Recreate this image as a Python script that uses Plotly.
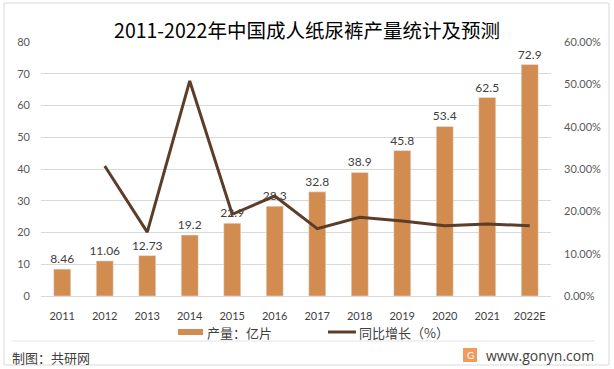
import plotly.graph_objects as go

years = ["2011", "2012", "2013", "2014", "2015", "2016", "2017", "2018", "2019", "2020", "2021", "2022E"]
output = [8.46, 11.06, 12.73, 19.2, 22.9, 28.3, 32.8, 38.9, 45.8, 53.4, 62.5, 72.9]
output_labels = ["8.46", "11.06", "12.73", "19.2", "22.9", "28.3", "32.8", "38.9", "45.8", "53.4", "62.5", "72.9"]
growth = [None, 30.7, 15.1, 50.8, 19.3, 23.6, 15.9, 18.6, 17.7, 16.6, 17.0, 16.6]
left_ticks = [0, 10, 20, 30, 40, 50, 60, 70, 80]
right_ticks = [0, 10, 20, 30, 40, 50, 60]
right_tick_text = ["0.00%", "10.00%", "20.00%", "30.00%", "40.00%", "50.00%", "60.00%"]
series_names = ["产量：亿片", "同比增长（%）"]

FONT = "Lato, 'Noto Sans CJK SC', sans-serif"
CJK = "'Noto Sans CJK SC', sans-serif"
BAR = "#D38C4F"
LINE = "#5C3D2A"

PL, PR, PT, PB = 41, 63, 42, 73
PW, PH = 614 - PL - PR, 369 - PT - PB


def px(x):
    return (x - PL) / PW


def py(y):
    return (369 - PB - y) / PH


fig = go.Figure()
fig.add_trace(go.Bar(
    x=years, y=output, name=series_names[0], marker_color=BAR, width=0.4,
    text=output_labels, textposition="outside", cliponaxis=False, constraintext="none",
    textfont=dict(size=12, color="#404040", family=FONT),
))
fig.add_trace(go.Scatter(
    x=years, y=growth, name=series_names[1], yaxis="y2", mode="lines",
    line=dict(color=LINE, width=3), connectgaps=False,
))

fig.update_layout(
    width=614, height=369,
    margin=dict(l=PL, r=PR, t=PT, b=PB),
    paper_bgcolor="white", plot_bgcolor="white",
    font=dict(family=FONT, size=11, color="#595959"),
    title=dict(text="2011-2022年中国成人纸尿裤产量统计及预测", x=0.5, xanchor="center",
               y=1 - 31 / 369, yanchor="middle", font=dict(family=CJK, size=19.5, color="#000000")),
    showlegend=False,
    xaxis=dict(type="category", showgrid=False, showline=True, linecolor="#D9D9D9",
               ticks="", tickfont=dict(size=11, color="#404040"), ticklabelstandoff=10),
    yaxis=dict(range=[0, 80], tickvals=left_ticks, showgrid=True, gridcolor="#D9D9D9",
               zeroline=False, showline=False, tickfont=dict(size=11, color="#595959"),
               ticklabelstandoff=10),
    yaxis2=dict(range=[0, 60], tickvals=right_ticks, ticktext=right_tick_text, overlaying="y",
                side="right", showgrid=False, zeroline=False, showline=False,
                tickfont=dict(size=11, color="#595959"), ticklabelstandoff=12),
)

# legend (drawn manually to match swatch shapes)
fig.add_shape(type="rect", xref="paper", yref="paper", x0=px(178), x1=px(203),
              y0=py(335), y1=py(329), fillcolor=BAR, line=dict(width=0))
fig.add_annotation(text=series_names[0], xref="paper", yref="paper", x=px(205), y=py(332),
                   xanchor="left", yanchor="middle", showarrow=False,
                   font=dict(family=CJK, size=13, color="#404040"))
fig.add_shape(type="line", xref="paper", yref="paper", x0=px(328), x1=px(356),
              y0=py(332), y1=py(332), line=dict(color=LINE, width=3))
fig.add_annotation(text=series_names[1], xref="paper", yref="paper", x=px(357), y=py(332),
                   xanchor="left", yanchor="middle", showarrow=False,
                   font=dict(family=CJK, size=13, color="#404040"))

# outer border and footer separator
fig.add_shape(type="rect", xref="paper", yref="paper", x0=px(4), x1=px(609),
              y0=py(365), y1=py(3), line=dict(color="#D9D9D9", width=1))
fig.add_shape(type="line", xref="paper", yref="paper", x0=px(12), x1=px(595),
              y0=py(341), y1=py(341), line=dict(color="#E3E3E3", width=1))

fig.add_annotation(text="制图：共研网", xref="paper", yref="paper", x=px(10), y=py(357),
                   xanchor="left", yanchor="middle", showarrow=False,
                   font=dict(family=CJK, size=13, color="#404040"))
fig.add_annotation(text="www.gonyn.com", xref="paper", yref="paper", x=px(596), y=py(355),
                   xanchor="right", yanchor="middle", showarrow=False,
                   font=dict(family="'Open Sans', sans-serif", size=14, color="#404040"))
# small logo square
fig.add_shape(type="rect", xref="paper", yref="paper", x0=px(463), x1=px(477),
              y0=py(362), y1=py(348), fillcolor="#F29A5C", line=dict(width=0))
fig.add_annotation(text="G", xref="paper", yref="paper", x=px(470), y=py(355),
                   xanchor="center", yanchor="middle", showarrow=False,
                   font=dict(family=FONT, size=10, color="white"))

fig.write_html("out.html", config={"displayModeBar": False},
               post_script="document.body.style.margin='0';")
